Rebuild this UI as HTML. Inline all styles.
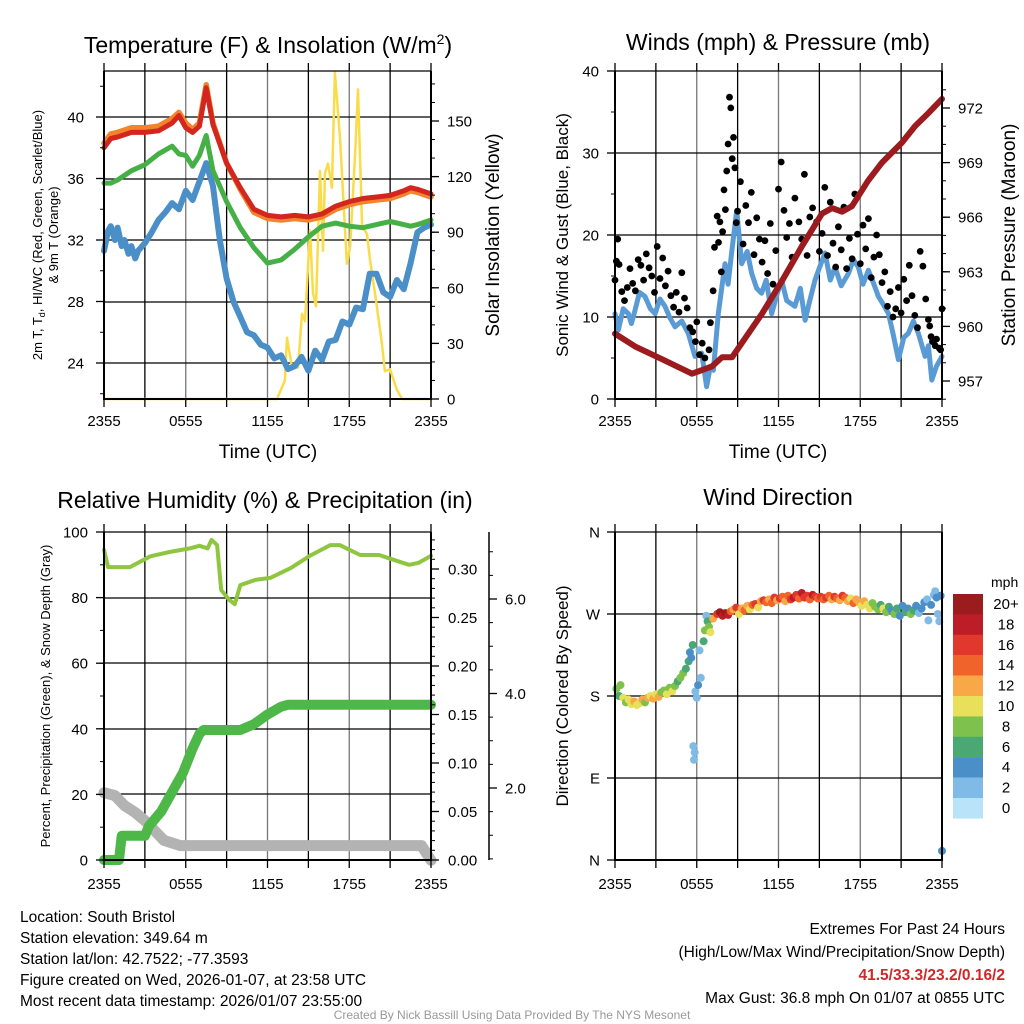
<!DOCTYPE html>
<html><head><meta charset="utf-8"><style>
html,body{margin:0;padding:0;background:#fff;}
svg{display:block;font-family:"Liberation Sans",Arial,sans-serif;}
</style></head><body>
<svg id="chart" width="1024" height="1024" viewBox="0 0 1024 1024" xmlns="http://www.w3.org/2000/svg">
<g id="layer-grid"></g>
<g id="layer-data"></g>
<g id="layer-axes"></g>

<text x="268" y="53" font-size="23" text-anchor="middle">Temperature (F) &amp; Insolation (W/m<tspan font-size="14" dy="-9">2</tspan><tspan dy="9">)</tspan></text>
<text x="778" y="50" font-size="23" text-anchor="middle">Winds (mph) &amp; Pressure (mb)</text>
<text x="265" y="508" font-size="23" text-anchor="middle">Relative Humidity (%) &amp; Precipitation (in)</text>
<text x="778" y="505" font-size="23" text-anchor="middle">Wind Direction</text>

<text x="268" y="458" font-size="19" text-anchor="middle">Time (UTC)</text>
<text x="778" y="458" font-size="19" text-anchor="middle">Time (UTC)</text>

<text transform="translate(42,235) rotate(-90)" font-size="13" text-anchor="middle">2m T, T<tspan font-size="9" dy="3">d</tspan><tspan dy="-3">, HI/WC (Red, Green, Scarlet/Blue)</tspan></text>
<text transform="translate(58,235) rotate(-90)" font-size="13" text-anchor="middle">&amp; 9m T (Orange)</text>
<text transform="translate(499,235) rotate(-90)" font-size="19" text-anchor="middle">Solar Insolation (Yellow)</text>
<text transform="translate(568,235) rotate(-90)" font-size="17" text-anchor="middle">Sonic Wind &amp; Gust (Blue, Black)</text>
<text transform="translate(1015,235) rotate(-90)" font-size="19" text-anchor="middle">Station Pressure (Maroon)</text>
<text transform="translate(50,696) rotate(-90)" font-size="13" text-anchor="middle">Percent, Precipitation (Green), &amp; Snow Depth (Gray)</text>
<text transform="translate(568,696) rotate(-90)" font-size="17" text-anchor="middle">Direction (Colored By Speed)</text>

<text x="991" y="587" font-size="14">mph</text>

<g font-size="15.5">
<text x="20" y="922">Location: South Bristol</text>
<text x="20" y="943">Station elevation: 349.64 m</text>
<text x="20" y="964">Station lat/lon: 42.7522; -77.3593</text>
<text x="20" y="985">Figure created on Wed, 2026-01-07, at 23:58 UTC</text>
<text x="20" y="1006">Most recent data timestamp: 2026/01/07 23:55:00</text>
</g>
<g font-size="15.5" text-anchor="end">
<text x="1005" y="934">Extremes For Past 24 Hours</text>
<text x="1005" y="957">(High/Low/Max Wind/Precipitation/Snow Depth)</text>
<text x="1005" y="980" fill="#d0282a" font-weight="bold">41.5/33.3/23.2/0.16/2</text>
<text x="1005" y="1003">Max Gust: 36.8 mph On 01/07 at 0855 UTC</text>
</g>
<text x="512" y="1019" font-size="12" fill="#999" text-anchor="middle">Created By Nick Bassill Using Data Provided By The NYS Mesonet</text>
</svg>
<script>
// ---------- data ----------
var timeTicks = ["2355","0555","1155","1755","2355"];
// Temperature panel
var tempT = [0,0.5,1,2,3,4,5,5.5,6,6.5,7,7.5,8,9,10,11,12,13,14,15,16,17,18,19,20,21,22,22.5,23,24];
var airTemp = [38.0,38.6,38.7,39.0,39.0,39.1,39.6,40.1,39.3,39.0,39.4,41.9,39.5,37.0,35.4,34.0,33.6,33.5,33.6,33.5,33.7,34.2,34.5,34.7,34.8,34.9,35.2,35.4,35.3,35.0];
var temp9m = [38.3,38.9,39.0,39.3,39.3,39.4,39.9,40.3,39.6,39.2,39.6,42.1,39.6,37.0,35.3,33.8,33.4,33.3,33.4,33.3,33.5,34.0,34.3,34.5,34.6,34.7,35.0,35.2,35.1,34.8];
var dewT = [0,0.5,1,2,3,4,5,5.5,6,6.5,7,7.5,8,9,10,11,12,13,14,15,16,17,18,19,20,21,22,22.5,23,24];
var dewPoint = [35.7,35.7,35.9,36.5,36.9,37.6,38.1,37.6,37.5,36.8,37.5,38.8,36.5,34.5,32.8,31.5,30.5,30.7,31.4,32.2,32.9,33.1,32.9,32.8,33.0,33.2,33.0,32.9,33.0,33.3];
var chillT = [0,0.3,0.5,0.8,1,1.3,1.5,1.8,2,2.3,2.5,3,3.5,4,4.5,5,5.5,6,6.5,7,7.5,8,8.5,9,9.5,10,10.5,11,11.5,12,12.5,13,13.5,14,14.5,15,15.5,16,16.5,17,17.5,18,18.5,19,19.5,20,20.5,21,21.5,22,22.5,23,23.5,24];
var windChill = [31.3,32.6,32.9,32.0,32.8,31.6,32.0,31.1,31.6,30.8,31.3,31.8,32.5,33.3,33.8,34.4,34.0,35.2,34.6,35.8,37.0,35.5,32.0,29.5,28.0,27.0,26.0,25.8,25.2,25.0,24.3,24.5,23.6,23.8,24.4,23.5,24.8,24.2,25.4,25.5,26.7,26.5,27.6,27.5,29.8,29.8,28.6,28.3,29.4,28.8,30.5,32.5,32.8,33.0];
var solarT = [0,12.7,13.28,13.43,13.8,14.24,14.53,14.75,15.12,15.34,15.56,15.85,16.07,16.22,16.44,16.73,16.95,17.32,17.83,18.06,18.42,18.64,18.94,19.3,19.52,19.89,20.4,20.62,20.99,21.5,21.87,24];
var solar = [0,0,10,33,17,17,46,42,91,57,50,123,80,122,127,114,176,141,73,82,131,167,93,89,75,57,30,15,16,5,0,0];
// Wind panel
var windT = [0,0.24,0.6,0.98,1.2,1.47,1.8,2.2,2.6,2.94,3.3,3.67,4.0,4.4,4.9,5.38,5.87,6.36,6.72,7.0,7.22,7.58,8.07,8.3,8.56,8.93,9.3,9.7,10.03,10.4,10.76,11.1,11.5,11.9,12.23,12.6,13.2,13.6,13.95,14.3,14.68,15.0,15.41,15.8,16.15,16.6,17.13,17.5,17.86,18.2,18.6,19.0,19.33,19.7,20.07,20.4,20.8,21.2,21.53,21.9,22.27,22.76,23.0,23.25,23.6,24];
var windSpeed = [10.4,8.4,11.0,10.4,9.2,10.8,13.0,12.5,11.0,10.4,12.2,11.3,10.0,8.8,9.5,8.0,5.2,5.6,1.5,4.0,3.5,10.4,16.5,14.0,17.8,23.0,16.5,18.0,15.3,13.5,12.9,14.5,10.4,12.8,14.5,12.0,11.3,13.5,9.6,12.0,14.5,16.0,17.8,14.5,16.1,13.8,15.3,17.0,16.1,14.0,15.7,14.0,12.5,11.5,10.4,8.0,4.8,7.5,8.0,9.5,8.0,5.2,6.5,2.3,4.0,5.2];
var gustT = [0.0,0.1,0.2,0.3,0.5,0.7,0.9,1.1,1.3,1.5,1.7,1.9,2.1,2.3,2.5,2.7,2.9,3.1,3.3,3.5,3.7,3.9,4.1,4.3,4.5,4.7,4.9,5.1,5.3,5.5,5.7,5.9,6.0,6.2,6.4,6.6,6.9,7.0,7.2,7.3,7.5,7.6,7.7,7.8,7.9,8.0,8.1,8.2,8.3,8.4,8.5,8.6,8.7,8.8,8.9,9.0,9.2,9.4,9.6,9.8,10.0,10.2,10.4,10.6,10.8,11.0,11.2,11.4,11.6,11.8,12.0,12.2,12.4,12.6,12.8,13.0,13.2,13.5,13.7,13.9,14.1,14.3,14.5,14.8,15.0,15.2,15.4,15.6,15.8,16.0,16.2,16.4,16.6,16.8,17.0,17.2,17.4,17.6,17.8,18.0,18.2,18.4,18.6,18.8,19.0,19.2,19.4,19.6,19.8,20.0,20.2,20.4,20.6,20.8,21.0,21.2,21.4,21.6,21.8,22.0,22.2,22.4,22.6,22.8,23.0,23.1,23.2,23.3,23.5,23.6,23.8,23.9,24.0];
var gustSpeed = [14.5,16.8,19.5,16.4,13.1,12.0,13.6,15.9,14.1,13.2,17.0,16.3,14.5,17.7,16.0,15.0,13.0,18.6,14.7,17.2,13.8,15.6,12.6,11.2,13.0,10.6,15.4,12.3,11.1,8.7,8.2,7.0,9.4,5.4,6.8,5.0,6.0,9.3,13.2,18.5,22.3,19.1,21.6,15.5,20.4,25.5,23.1,27.8,31.1,36.8,35.5,29.3,31.9,28.2,21.5,22.9,26.5,18.9,23.6,21.5,25.2,17.6,22.1,19.5,16.7,19.3,15.3,21.4,14.0,18.1,25.6,28.9,23.0,19.7,21.4,17.3,24.5,21.6,19.5,27.4,17.5,22.2,23.3,21.6,18.0,20.2,25.8,17.5,24.0,19.0,16.1,21.0,18.2,23.4,15.9,19.6,17.1,25.0,20.1,16.5,21.2,18.3,22.0,14.8,17.3,20.0,17.6,14.2,15.5,11.3,13.1,10.0,11.0,13.6,10.5,14.6,12.0,16.3,12.6,10.2,8.7,18.0,16.2,12.2,9.7,8.9,7.6,7.0,6.5,7.3,6.2,6.0,11.0];
var presT = [0,1.47,3.45,5.65,7.12,7.85,8.59,9.32,10.79,12.26,13.72,15.19,15.93,16.66,17.39,18.57,19.6,21.06,22.02,22.97,24];
var pressure = [959.6,958.9,958.2,957.4,957.8,958.3,958.3,959.1,960.7,962.5,964.4,966.2,966.5,966.3,966.6,968.0,969.0,970.1,971.0,971.7,972.5];
// Humidity panel
var rhT = [0,0.3,1.9,3.4,4.8,6.3,7.0,7.6,7.9,8.3,8.6,9.2,9.6,10.0,11.1,12.2,13.7,15.1,16.6,17.3,18.8,20.2,21.7,22.4,23.1,24];
var relHum = [94.5,89.3,89.3,92.6,93.9,95,95.8,95,97.6,96,82.3,79.3,78,83.8,85.4,86,89,92.7,96,96,93,93,90.9,90,90.6,92.7];
var precipT = [0,1.1,1.3,3.0,3.3,4.2,5.0,5.8,6.5,7.0,7.3,10.0,11.0,12.0,13.0,13.5,24];
var precip = [0,0,0.025,0.025,0.035,0.05,0.07,0.09,0.115,0.13,0.134,0.134,0.14,0.15,0.158,0.16,0.16];
var snowT = [0,0.8,1.5,2.3,3.0,3.7,4.4,5.6,23.3,24];
var snowDepth = [1.9,1.84,1.63,1.48,1.31,1.1,0.89,0.78,0.78,0.47];
// Wind direction panel
var dirT = [0.1,0.3,0.4,0.6,0.8,1.0,1.2,1.4,1.6,1.8,2.0,2.2,2.4,2.6,2.8,3.0,3.2,3.4,3.6,3.8,4.0,4.2,4.4,4.6,4.8,5.0,5.2,5.4,5.5,5.6,5.7,5.75,5.8,5.85,5.9,6.0,6.1,6.2,6.3,6.5,6.6,6.7,6.8,6.9,7.0,7.2,7.5,7.7,7.9,8.1,8.3,8.5,8.7,8.9,9.1,9.3,9.5,9.7,9.9,10.1,10.3,10.5,10.7,10.9,11.1,11.3,11.5,11.7,11.9,12.1,12.3,12.5,12.7,12.9,13.1,13.3,13.5,13.7,13.9,14.1,14.3,14.5,14.7,14.9,15.1,15.3,15.5,15.7,15.9,16.1,16.3,16.5,16.7,16.9,17.1,17.3,17.5,17.7,17.9,18.1,18.3,18.5,18.7,18.9,19.1,19.3,19.5,19.7,19.9,20.1,20.3,20.5,20.7,20.9,21.1,21.3,21.5,21.7,21.9,22.1,22.3,22.5,22.7,22.9,23.0,23.2,23.4,23.5,23.6,23.7,23.8,23.9,24.0];
var dirDeg = [188,180,192,178,173,176,171,174,170,172,176,173,178,180,177,182,179,184,186,182,189,185,191,196,200,205,210,218,228,222,236,125,110,118,185,178,192,230,200,240,252,268,262,256,250,265,270,272,268,271,269,273,275,277,270,276,274,279,275,280,281,277,284,285,283,286,282,288,285,287,289,284,290,286,288,291,287,293,288,290,286,291,289,287,289,286,288,290,286,289,287,285,290,288,284,287,282,286,283,279,284,280,276,282,278,275,280,276,272,278,274,270,276,268,279,272,276,270,274,279,271,276,283,286,263,280,291,295,288,270,262,290,10];
var dirSpeed = [8,7,9,10,8,11,10,12,11,10,12,9,12,11,13,10,12,9,8,11,9,10,8,7,9,8,7,6,5,4,6,3,3,2,2,3,4,3,2,7,9,3,6,8,10,12,17,20,19,21,18,14,12,16,11,13,15,12,10,14,16,11,13,17,15,12,14,16,13,17,15,12,14,16,18,17,15,19,16,17,15,18,16,14,17,15,16,14,12,17,15,13,16,14,12,11,15,13,12,10,13,11,10,9,8,9,7,10,8,6,5,8,6,4,5,7,4,8,6,4,3,5,4,3,3,4,2,3,4,3,2,4,4];
var speedBins = ["0","2","4","6","8","10","12","14","16","18","20+"];

// ---------- helpers ----------
var NS="http://www.w3.org/2000/svg";
var gGrid=document.getElementById('layer-grid'),gData=document.getElementById('layer-data'),gAx=document.getElementById('layer-axes');
function mk(tag,attrs,parent){var e=document.createElementNS(NS,tag);for(var k in attrs)e.setAttribute(k,attrs[k]);parent.appendChild(e);return e;}
function lin(d0,d1,r0,r1){return function(v){return r0+(v-d0)*(r1-r0)/(d1-d0);};}
var colors=["#b8e3f8","#7fbbe6","#4a8fc8","#4aa874","#7ec24d","#e8e05b","#f8a846","#f0642b","#e0382c","#bd1d27","#9b1b1e"];
function pathOf(xs,ys,fx,fy){var d='';for(var i=0;i<xs.length;i++){d+=(i?'L':'M')+fx(xs[i]).toFixed(1)+' '+fy(ys[i]).toFixed(1);}return d;}

var panels={
 p1:{x0:104,x1:431,y0:71,y1:399},
 p2:{x0:615,x1:942,y0:71,y1:399},
 p3:{x0:104,x1:431,y0:532,y1:860},
 p4:{x0:615,x1:942,y0:532,y1:860}
};

function frame(p,name,hGrid,tickLabelY){
  var fx=lin(0,24,p.x0,p.x1);
  for(var h=3;h<24;h+=3){
    var l=mk('line',{x1:fx(h),x2:fx(h),y1:p.y0,y2:p.y1,stroke:h%6?'#000':'#777','stroke-width':1.3},gGrid);
    
    
  }
  hGrid.forEach(function(y){
    var l=mk('line',{x1:p.x0,x2:p.x1,y1:y,y2:y,stroke:'#000','stroke-width':1.3},gGrid);
    
    
  });
  var a=mk('path',{d:'M'+p.x0+' '+p.y0+'L'+p.x0+' '+p.y1+'L'+p.x1+' '+p.y1+'L'+p.x1+' '+p.y0,fill:'none',stroke:'#000','stroke-width':2},gAx);
  
  
  var t=mk('line',{x1:p.x0,x2:p.x1,y1:p.y0,y2:p.y0,stroke:'#000','stroke-width':1.3},gAx);
  
  
  for(var h=0;h<=24;h+=3){
    var tk=mk('line',{x1:fx(h),x2:fx(h),y1:p.y1,y2:p.y1+8,stroke:'#000','stroke-width':1.3},gAx);
    
    
    var tk2=mk('line',{x1:fx(h),x2:fx(h),y1:p.y0,y2:p.y0-8,stroke:'#000','stroke-width':1.3},gAx);
    
    
  }
  timeTicks.forEach(function(s,i){
    var tx=mk('text',{x:fx(i*6),y:tickLabelY,'font-size':15,'text-anchor':'middle'},gAx);
    tx.textContent=s;
    
    
  });
  return fx;
}
function yAxis(name,x,ticks,labels,fy,side,minor,lx){
  var dir=side==='left'?-1:1;
  minor.forEach(function(v){
    var m=mk('line',{x1:x,x2:x+dir*4,y1:fy(v),y2:fy(v),stroke:'#000','stroke-width':1},gAx);
    
    
  });
  ticks.forEach(function(v,i){
    var y=fy(v);
    var t=mk('line',{x1:x,x2:x+dir*8,y1:y,y2:y,stroke:'#000','stroke-width':1.3},gAx);
    
    
    var tx=mk('text',{x:lx,y:y+5.5,'font-size':15,'text-anchor':side==='left'?'end':'start'},gAx);
    tx.textContent=labels[i];
    
    
  });
}
function range(a,b,s){var r=[];for(var v=a;v<=b+1e-9;v+=s)r.push(+v.toFixed(4));return r;}
function line(name,xs,ys,fx,fy,color,w){
  var p=mk('path',{d:pathOf(xs,ys,fx,fy),fill:'none',stroke:color,'stroke-width':w,'stroke-linejoin':'round','stroke-linecap':'round'},gData);
  
  
}

// ---------- panel 1 ----------
(function(){
  var p=panels.p1;
  var fyT=lin(24,40,363,117), fyS=lin(0,150,399,121);
  var fx=frame(p,'temp-panel',[117,179,240,302,363],426);
  yAxis('temp-y',p.x0,[24,28,32,36,40],['24','28','32','36','40'],fyT,'left',range(22,42,2),p.x0-20);
  yAxis('solar-y',p.x1,[0,30,60,90,120,150],['0','30','60','90','120','150'],fyS,'right',range(0,170,10),p.x1+16);
  line('solar-insolation-line',solarT,solar,fx,fyS,'#f9dc4a',2.5);
  line('wind-chill-line',chillT,windChill,fx,fyT,'#4a8fc8',6);
  line('dew-point-line',dewT,dewPoint,fx,fyT,'#46b046',5);
  line('temp-9m-line',tempT,temp9m,fx,fyT,'#f2842b',5.5);
  line('air-temp-line',tempT,airTemp,fx,fyT,'#d3261f',5);
})();

// ---------- panel 2 ----------
(function(){
  var p=panels.p2;
  var fyW=lin(0,40,399,71), fyP=lin(957,972,381,108);
  var fx=frame(p,'wind-panel',[153,235,317],426);
  yAxis('wind-y',p.x0,[0,10,20,30,40],['0','10','20','30','40'],fyW,'left',range(0,40,5),p.x0-16);
  yAxis('pressure-y',p.x1,[957,960,963,966,969,972],['957','960','963','966','969','972'],fyP,'right',range(956,973,1),p.x1+16);
  line('sonic-wind-line',windT,windSpeed,fx,fyW,'#5a9bd5',5);
  gustT.forEach(function(t,i){
    var c=mk('circle',{cx:fx(t).toFixed(1),cy:fyW(gustSpeed[i]).toFixed(1),r:3.4,fill:'#000'},gData);
    
    
  });
  line('pressure-line',presT,pressure,fx,fyP,'#9b1b1e',6);
})();

// ---------- panel 3 ----------
(function(){
  var p=panels.p3;
  var fyR=lin(0,100,860,532), fyPr=lin(0,0.30,860,569), fyS=lin(2,6,788,599);
  var fx=frame(p,'humidity-panel',[598,663,729,794],889);
  yAxis('percent-y',p.x0,[0,20,40,60,80,100],['0','20','40','60','80','100'],fyR,'left',range(0,100,10),p.x0-16);
  yAxis('precip-y',p.x1,[0,0.05,0.1,0.15,0.2,0.25,0.3],['0.00','0.05','0.10','0.15','0.20','0.25','0.30'],fyPr,'right',range(0,0.33,0.01),p.x1+17);
  var ax=mk('line',{x1:489,x2:489,y1:532,y2:860,stroke:'#000','stroke-width':1.5},gAx);
  
  
  yAxis('snow-y',489,[2,4,6],['2.0','4.0','6.0'],fyS,'right',range(0.5,7,0.5),505);
  line('snow-depth-line',snowT,snowDepth,fx,fyS,'#b3b3b3',11);
  line('precipitation-line',precipT,precip,fx,fyPr,'#4db848',10);
  line('relative-humidity-line',rhT,relHum,fx,fyR,'#8fc63f',4);
})();

// ---------- panel 4 ----------
(function(){
  var p=panels.p4;
  var fyD=lin(0,360,860,532);
  var fx=frame(p,'direction-panel',[614,696,778],889);
  yAxis('direction-y',p.x0,[0,90,180,270,360],['N','E','S','W','N'],fyD,'left',[],p.x0-15);
  dirT.forEach(function(t,i){
    var idx=Math.min(10,Math.floor(dirSpeed[i]/2));
    var c=mk('circle',{cx:fx(t).toFixed(1),cy:fyD(dirDeg[i]).toFixed(1),r:4,fill:colors[idx]},gData);
    
    
  });
  for(var k=10;k>=0;k--){
    var top=594+(10-k)*20.4;
    var r=mk('rect',{x:953,y:top.toFixed(1),width:30,height:20.6,fill:colors[k]},gAx);
    
    
    var tx=mk('text',{x:1006,y:(top+15).toFixed(1),'font-size':15,'text-anchor':'middle'},gAx);
    tx.textContent=speedBins[k];
    
    
  }
})();
</script>
</body></html>
